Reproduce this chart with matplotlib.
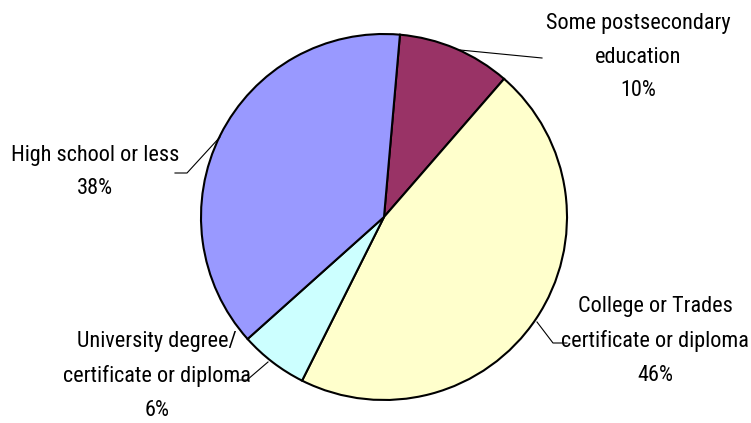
import matplotlib.pyplot as plt

# --- dati ---
categories = ['Some postsecondary\neducation', 'College or Trades\ncertificate or diploma',
              'University degree/\ncertificate or diploma', 'High school or less']
shares = [10, 46, 6, 38]
colors = ['#993366', '#FFFFCC', '#CCFFFF', '#9999FF']

plt.rcParams['font.family'] = ['Roboto Condensed', 'Liberation Sans', 'DejaVu Sans']

W, H = 751, 423
fig = plt.figure(figsize=(W / 100, H / 100), dpi=100)
ax = fig.add_axes([0, 0, 1, 1])

cx, cy, r = 384, H - 217, 183
ax.pie(shares, colors=colors, startangle=85, counterclock=False,
       center=(cx, cy), radius=r,
       wedgeprops=dict(edgecolor='black', linewidth=1.5))
ax.set_xlim(0, W)
ax.set_ylim(0, H)
ax.set_aspect('equal')
ax.axis('off')

# etichette (centro x, y in pixel dall'alto) e linee guida
label_pos = [(638, 57), (655, 341), (157, 376), (95, 172)]
leaders = [
    [(460, 50), (542, 58)],
    [(537, 322), (553, 343), (567, 343)],
    [(268, 362), (247, 380), (237, 380)],
    [(220, 137), (187, 173), (175, 173)],
]

for name, val, (lx, ly) in zip(categories, shares, label_pos):
    txt = f'{name}\n{val}%'
    ax.text(lx, H - ly, txt, ha='center', va='center', fontsize=16,
            linespacing=1.8, color='black')

for pts in leaders:
    xs = [p[0] for p in pts]
    ys = [H - p[1] for p in pts]
    ax.plot(xs, ys, color='black', linewidth=0.8)

fig.savefig('out.png', dpi=100)
